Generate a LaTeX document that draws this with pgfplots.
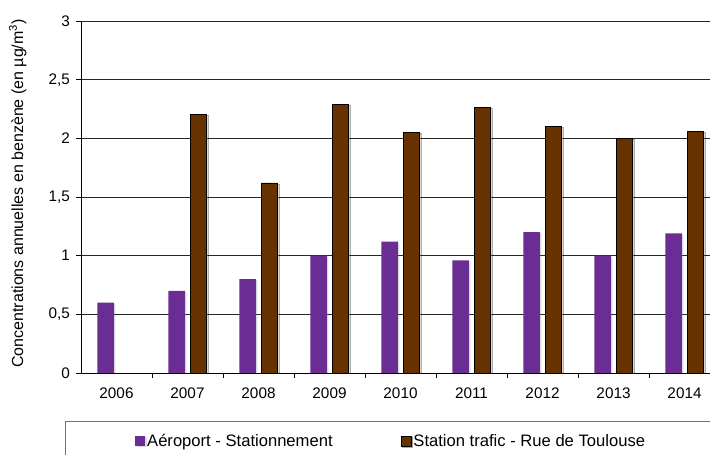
\documentclass[border=0pt]{standalone}
\usepackage{pgfplots}
\pgfplotsset{compat=1.18}
\usepackage{fontspec}
\setmainfont{Liberation Sans}
\usetikzlibrary{shadows}

\definecolor{aeroport}{HTML}{6A2D94}
\definecolor{trafic}{HTML}{663300}

\begin{document}
\begin{tikzpicture}[x=1bp,y=1bp]
\useasboundingbox (0,0) rectangle (710,455);
\clip (0,0) rectangle (710,455);
\begin{axis}[
  at={(81bp,82bp)}, anchor=south west,
  scale only axis, width=639bp, height=352bp,
  xmin=-0.5, xmax=8.5, ymin=0, ymax=3,
  axis x line*=bottom, axis y line*=left,
  axis line style={black, line width=0.8bp},
  tick align=outside, major tick length=5bp,
  tick style={black, line width=0.8bp},
  ytick={0,0.5,...,3},
  ymajorgrids, major grid style={black!85, line width=0.8bp},
  xtick={0,...,8},
  xticklabels={2006,2007,2008,2009,2010,2011,2012,2013,2014},
  xtick style={draw=none},
  extra x ticks={0.5,1.5,...,7.5},
  extra x tick labels={},
  extra x tick style={xtick style={draw=black}, grid=none},
  tick label style={font=\fontsize{15.3bp}{17bp}\selectfont},
  /pgf/number format/use comma,
  /pgf/number format/assume math mode=true,
  xticklabel style={yshift=-6bp},
  yticklabel style={xshift=-2.5bp},
  ylabel={Concentrations annuelles en benzène (en µg/m\textsuperscript{3})},
  every axis y label/.style={at={(axis description cs:-0.099,0.51)}, rotate=90, anchor=center,
    font=\fontsize{16bp}{18bp}\selectfont},
  legend columns=2,
  legend style={at={(axis description cs:0.0845,-0.193)}, anchor=west,
    draw=none, fill=none, inner sep=0pt,
    font=\fontsize{16.6bp}{18bp}\selectfont,
    /tikz/every even column/.append style={column sep=66bp}},
]
\addplot[ybar, bar width=16.5bp, bar shift=-10.8bp, fill=aeroport, draw=none,
  drop shadow={shadow xshift=1.5bp, shadow yshift=-1bp, opacity=0.3},
  legend image code/.code={\fill[aeroport] (0bp,-5bp) rectangle (10bp,5bp);}]
  coordinates {(0,0.60) (1,0.70) (2,0.80) (3,1.00) (4,1.12) (5,0.96) (6,1.20) (7,1.00) (8,1.19)};
\addlegendentry{Aéroport - Stationnement}
\addplot[ybar, bar width=16.5bp, bar shift=10.8bp, fill=trafic, draw=black, line width=0.8bp,
  drop shadow={shadow xshift=1.5bp, shadow yshift=-1bp, opacity=0.3},
  legend image code/.code={\filldraw[fill=trafic, draw=black, line width=0.8bp] (0bp,-5bp) rectangle (10bp,5bp);}]
  coordinates {(1,2.20) (2,1.62) (3,2.29) (4,2.05) (5,2.26) (6,2.10) (7,2.00) (8,2.06)};
\addlegendentry{Station trafic - Rue de Toulouse}
\end{axis}
% frame around the legend, running off the right and bottom edges
\draw[black!55, line width=1bp] (65,-5) rectangle (720,33);
\end{tikzpicture}
\end{document}
